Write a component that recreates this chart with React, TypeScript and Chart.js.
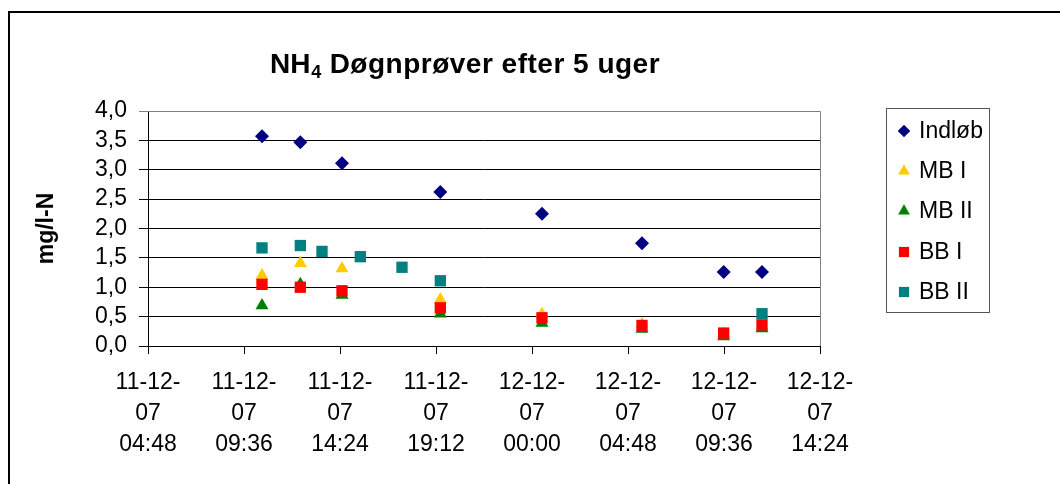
import React, { useEffect, useRef } from 'react';
import { Chart, registerables } from 'chart.js';

Chart.register(...registerables);

// ---------- text ----------
const TITLE_MAIN = 'NH';
const TITLE_SUB = '4';
const TITLE_REST = ' Døgnprøver efter 5 uger';
const Y_TITLE = 'mg/l-N';

// ---------- axes ----------
const X_TICKS = [
  '11-12-07 04:48',
  '11-12-07 09:36',
  '11-12-07 14:24',
  '11-12-07 19:12',
  '12-12-07 00:00',
  '12-12-07 04:48',
  '12-12-07 09:36',
  '12-12-07 14:24',
];
const Y_TICKS = [0, 0.5, 1, 1.5, 2, 2.5, 3, 3.5, 4];

// ---------- data ----------
const SERIES_NAMES = ['Indløb', 'MB I', 'MB II', 'BB I', 'BB II'];

const TIMES_MAIN = [
  '11-12-07 10:30',
  '11-12-07 12:25',
  '11-12-07 14:30',
  '11-12-07 19:25',
  '12-12-07 00:30',
  '12-12-07 05:30',
  '12-12-07 09:35',
  '12-12-07 11:30',
];
const TIMES_BB2 = [
  '11-12-07 10:30',
  '11-12-07 12:25',
  '11-12-07 13:30',
  '11-12-07 15:25',
  '11-12-07 17:30',
  '11-12-07 19:25',
  '12-12-07 11:30',
];

const INDLOB = [3.57, 3.47, 3.11, 2.62, 2.25, 1.75, 1.26, 1.26];
const MB_I = [1.2, 1.41, 1.32, 0.79, 0.54, 0.37, 0.21, 0.33];
const MB_II = [0.69, 1.05, 0.87, 0.55, 0.39, 0.29, 0.16, 0.3];
const BB_I = [1.05, 1.0, 0.94, 0.65, 0.48, 0.35, 0.22, 0.36];
const BB_II = [1.67, 1.71, 1.61, 1.52, 1.34, 1.11, 0.55];

// ---------- styles ----------
const COLORS = ['#000080', '#FFCC00', '#008000', '#FF0000', '#008080'];
const POINT_STYLES = ['rectRot', 'triangle', 'triangle', 'rect', 'rect'];
const POINT_RADII = [7, 7.5, 7.5, 8, 8];
const FONT = '"Liberation Sans", Arial, sans-serif';

// minutes since 11-12-07 00:00
function parseTime(s: string): number {
  const [d, t] = s.split(' ');
  const day = parseInt(d.split('-')[0], 10);
  const [hh, mm] = t.split(':').map((v) => parseInt(v, 10));
  return (day - 11) * 1440 + hh * 60 + mm;
}

const X_TICK_VALUES = X_TICKS.map(parseTime);

function drawMarker(
  ctx: CanvasRenderingContext2D,
  style: string,
  x: number,
  y: number,
  r: number,
  color: string
) {
  ctx.save();
  ctx.fillStyle = color;
  ctx.beginPath();
  if (style === 'rectRot') {
    ctx.moveTo(x, y - r);
    ctx.lineTo(x + r, y);
    ctx.lineTo(x, y + r);
    ctx.lineTo(x - r, y);
  } else if (style === 'triangle') {
    const w = r * Math.sqrt(3) / 2;
    ctx.moveTo(x, y - r);
    ctx.lineTo(x + w, y + r / 2);
    ctx.lineTo(x - w, y + r / 2);
  } else {
    const h = r * Math.SQRT1_2;
    ctx.rect(x - h, y - h, 2 * h, 2 * h);
  }
  ctx.closePath();
  ctx.fill();
  ctx.restore();
}

const decorPlugin = {
  id: 'decor',
  beforeDraw(chart: any) {
    const ctx = chart.ctx as CanvasRenderingContext2D;
    ctx.save();
    ctx.fillStyle = '#fff';
    ctx.fillRect(0, 0, chart.width, chart.height);
    ctx.restore();
  },
  afterDraw(chart: any) {
    const ctx = chart.ctx as CanvasRenderingContext2D;
    const area = chart.chartArea;
    ctx.save();
    // outer chart border (extends past the right / bottom edge)
    ctx.strokeStyle = '#000';
    ctx.lineWidth = 2;
    ctx.strokeRect(9, 12, chart.width + 20, chart.height + 20);

    // plot area top / right border
    ctx.strokeStyle = '#808080';
    ctx.lineWidth = 1;
    ctx.beginPath();
    ctx.moveTo(area.left, Math.round(area.top) + 0.5);
    ctx.lineTo(Math.round(area.right) + 0.5, Math.round(area.top) + 0.5);
    ctx.lineTo(Math.round(area.right) + 0.5, area.bottom);
    ctx.stroke();

    // title with subscript
    ctx.fillStyle = '#000';
    ctx.textBaseline = 'alphabetic';
    ctx.textAlign = 'left';
    const mainFont = `bold 28px ${FONT}`;
    const subFont = `bold 18px ${FONT}`;
    const spacing = '0.5px';
    (ctx as any).letterSpacing = '0px';
    ctx.font = mainFont;
    const wMain = ctx.measureText(TITLE_MAIN).width;
    ctx.font = subFont;
    const wSub = ctx.measureText(TITLE_SUB).width;
    ctx.font = mainFont;
    (ctx as any).letterSpacing = spacing;
    const wRest = ctx.measureText(TITLE_REST).width;
    const total = wMain + wSub + 1 + wRest;
    let tx = 465 - total / 2;
    const ty = 73;
    (ctx as any).letterSpacing = '0px';
    ctx.font = mainFont;
    ctx.fillText(TITLE_MAIN, tx, ty);
    tx += wMain + 1;
    ctx.font = subFont;
    ctx.fillText(TITLE_SUB, tx, ty + 5);
    tx += wSub;
    ctx.font = mainFont;
    (ctx as any).letterSpacing = spacing;
    ctx.fillText(TITLE_REST, tx, ty);
    (ctx as any).letterSpacing = '0px';

    // legend
    const lx = 886.5;
    const ly = 108.5;
    ctx.strokeStyle = '#555';
    ctx.lineWidth = 1;
    ctx.strokeRect(lx, ly, 103, 204);
    ctx.font = `23px ${FONT}`;
    ctx.textBaseline = 'middle';
    const rowY = [131, 171, 211, 252, 292];
    SERIES_NAMES.forEach((name, i) => {
      drawMarker(ctx, POINT_STYLES[i], 904, rowY[i], POINT_RADII[i] * 0.9, COLORS[i]);
      ctx.fillStyle = '#000';
      ctx.fillText(name, 919, rowY[i] + 1);
    });
    ctx.restore();
  },
};

const SERIES = [
  { times: TIMES_MAIN, values: INDLOB },
  { times: TIMES_MAIN, values: MB_I },
  { times: TIMES_MAIN, values: MB_II },
  { times: TIMES_MAIN, values: BB_I },
  { times: TIMES_BB2, values: BB_II },
];

export default function App() {
  const ref = useRef<HTMLCanvasElement | null>(null);

  useEffect(() => {
    if (!ref.current) return;
    const chart = new Chart(ref.current, {
      type: 'scatter',
      data: {
        datasets: SERIES.map((s, i) => ({
          label: SERIES_NAMES[i],
          data: s.times.map((t, j) => ({ x: parseTime(t), y: s.values[j] })),
          pointStyle: POINT_STYLES[i] as any,
          pointRadius: POINT_RADII[i],
          pointHoverRadius: POINT_RADII[i],
          backgroundColor: COLORS[i],
          borderColor: COLORS[i],
          borderWidth: 0,
          order: SERIES.length - i,
        })),
      },
      options: {
        animation: false,
        responsive: false,
        devicePixelRatio: 1,
        events: [],
        layout: { padding: { top: 111, right: 240, left: 0, bottom: 0 } },
        plugins: {
          legend: { display: false },
          title: { display: false },
          tooltip: { enabled: false },
        },
        scales: {
          x: {
            type: 'linear',
            min: X_TICK_VALUES[0],
            max: X_TICK_VALUES[X_TICK_VALUES.length - 1],
            afterBuildTicks: (scale: any) => {
              scale.ticks = X_TICK_VALUES.map((v) => ({ value: v }));
            },
            afterFit: (scale: any) => {
              scale.height = 138;
            },
            ticks: {
              autoSkip: false,
              maxRotation: 0,
              minRotation: 0,
              padding: 13,
              color: '#000',
              font: { family: FONT, size: 23, lineHeight: '31px' as any },
              callback: (v: any) => {
                const idx = X_TICK_VALUES.indexOf(Number(v));
                if (idx < 0) return '';
                const [d, t] = X_TICKS[idx].split(' ');
                const cut = d.lastIndexOf('-') + 1;
                return [d.slice(0, cut), d.slice(cut), t];
              },
            },
            grid: {
              drawOnChartArea: false,
              drawTicks: true,
              tickLength: 8,
              color: '#000',
            },
            border: { color: '#000', width: 1 },
          },
          y: {
            min: 0,
            max: 4,
            afterBuildTicks: (scale: any) => {
              scale.ticks = Y_TICKS.map((v) => ({ value: v }));
            },
            afterFit: (scale: any) => {
              scale.width = 148;
            },
            ticks: {
              autoSkip: false,
              padding: 12,
              color: '#000',
              font: { family: FONT, size: 23, lineHeight: 1 },
              callback: (v: any) => Number(v).toFixed(1).replace('.', ','),
            },
            grid: {
              color: (c: any) => (c.tick && c.tick.value === 4 ? '#808080' : '#000'),
              tickLength: 9,
              lineWidth: 1,
            },
            border: { color: '#000', width: 1 },
            title: {
              display: true,
              text: Y_TITLE,
              color: '#000',
              font: { family: FONT, size: 23, weight: 'bold' },
              padding: { top: 33, bottom: 0 },
            },
          },
        },
      },
      plugins: [decorPlugin],
    } as any);
    return () => chart.destroy();
  }, []);

  return (
    <div style={{ position: 'fixed', left: 0, top: 0, width: 1060, height: 484, background: '#fff' }}>
      <canvas ref={ref} width={1060} height={484} style={{ width: 1060, height: 484, display: 'block' }} />
    </div>
  );
}
